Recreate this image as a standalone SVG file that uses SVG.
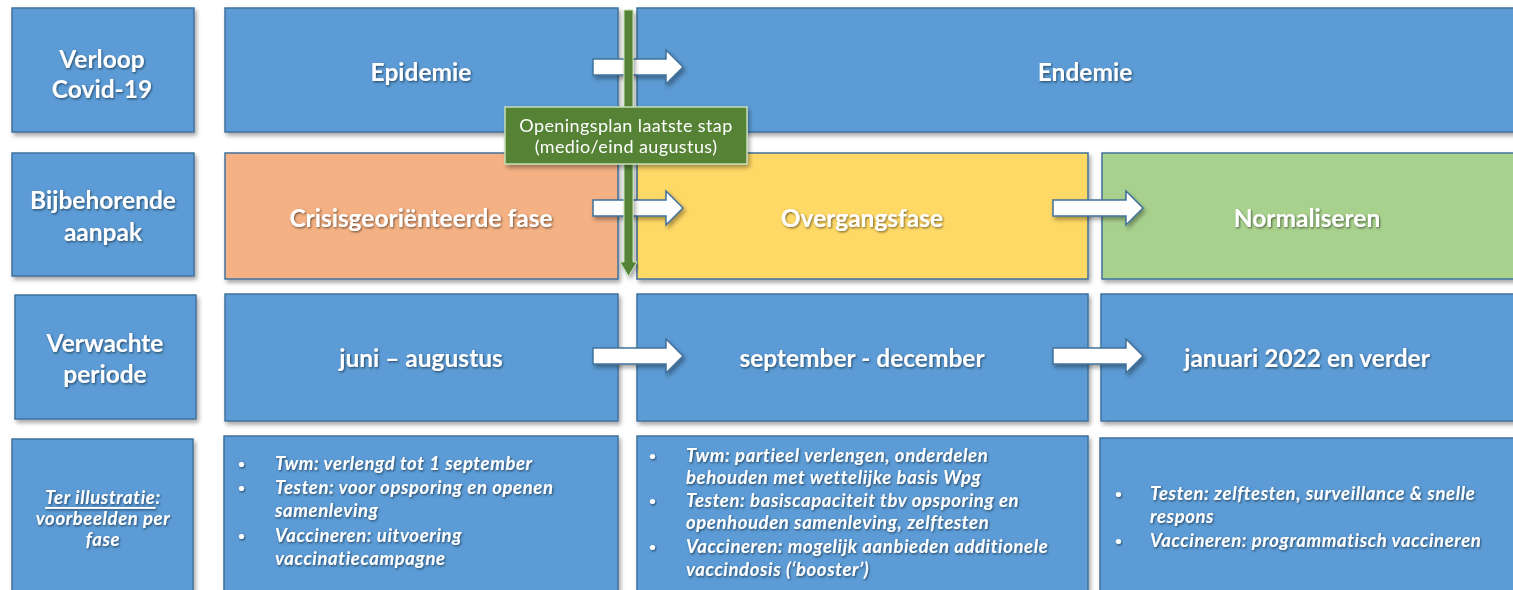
<svg xmlns="http://www.w3.org/2000/svg" width="1513" height="590" viewBox="0 0 1513 590">
<defs>
<filter id="sh" x="-10%" y="-10%" width="120%" height="130%">
<feDropShadow dx="2" dy="3" stdDeviation="2" flood-color="#000" flood-opacity="0.35"/>
</filter>
<filter id="tsh" x="-5%" y="-20%" width="110%" height="150%">
<feDropShadow dx="1" dy="1.2" stdDeviation="0.8" flood-color="#000" flood-opacity="0.55"/>
</filter>
<path id="blockArrow" d="M0,-8 L73,-8 L73,-17 L90,0 L73,17 L73,8 L0,8 Z"/>
</defs>
<style>
.blue{fill:#5B9BD5;stroke:#41719C;stroke-width:1.5}
.orange{fill:#F4B183;stroke:#41719C;stroke-width:1.5}
.yellow{fill:#FFD966;stroke:#41719C;stroke-width:1.5}
.green{fill:#A9D18E;stroke:#41719C;stroke-width:1.5}
.t{font-family:Lato,"Liberation Sans",sans-serif;font-weight:bold;font-size:24.5px;fill:#fff;text-anchor:middle;dominant-baseline:central;filter:url(#tsh)}
.b{font-family:Lato,"Liberation Sans",sans-serif;font-weight:bold;font-style:italic;font-size:18.5px;letter-spacing:0.6px;fill:#fff;dominant-baseline:central;filter:url(#tsh)}
.d{font-family:Lato,"Liberation Sans",sans-serif;font-weight:bold;font-size:12px;fill:#fff;dominant-baseline:central;filter:url(#tsh)}
.lab{font-family:Lato,"Liberation Sans",sans-serif;font-weight:bold;font-style:italic;font-size:18.5px;letter-spacing:0.6px;fill:#fff;text-anchor:middle;dominant-baseline:central;filter:url(#tsh)}
.arr{fill:#fff;stroke:#41719C;stroke-width:1.5;filter:url(#sh)}
.gt{font-family:Lato,"Liberation Sans",sans-serif;font-size:18px;letter-spacing:0.4px;fill:#fff;text-anchor:middle;dominant-baseline:central}
</style>
<rect width="1513" height="590" fill="#fff"/>

<g id="label-verloop" filter="url(#sh)">
<rect class="blue" x="12" y="8" width="182" height="124"/>
<text class="t" x="102" y="58">Verloop</text>
<text class="t" x="102" y="88">Covid-19</text>
</g>
<g id="epidemie" filter="url(#sh)">
<rect class="blue" x="225" y="8" width="393" height="124"/>
<text class="t" x="421" y="71">Epidemie</text>
</g>
<g id="endemie" filter="url(#sh)">
<rect class="blue" x="637" y="8" width="896" height="124"/>
<text class="t" x="1085" y="71">Endemie</text>
</g>

<g id="label-aanpak" filter="url(#sh)">
<rect class="blue" x="12" y="153" width="182" height="123"/>
<text class="t" x="103" y="199">Bijbehorende</text>
<text class="t" x="103" y="231">aanpak</text>
</g>
<g id="crisis" filter="url(#sh)">
<rect class="orange" x="225" y="153" width="393" height="126"/>
<text class="t" x="421" y="217">Crisisgeoriënteerde fase</text>
</g>
<g id="overgang" filter="url(#sh)">
<rect class="yellow" x="637" y="153" width="451" height="126"/>
<text class="t" x="862" y="217">Overgangsfase</text>
</g>
<g id="normaliseren" filter="url(#sh)">
<rect class="green" x="1102" y="153" width="431" height="126"/>
<text class="t" x="1307" y="217">Normaliseren</text>
</g>

<g id="label-periode" filter="url(#sh)">
<rect class="blue" x="15" y="295" width="181" height="124"/>
<text class="t" x="105" y="342">Verwachte</text>
<text class="t" x="105" y="373">periode</text>
</g>
<g id="juni" filter="url(#sh)">
<rect class="blue" x="225" y="294" width="393" height="127"/>
<text class="t" x="421" y="357">juni – augustus</text>
</g>
<g id="september" filter="url(#sh)">
<rect class="blue" x="637" y="294" width="451" height="127"/>
<text class="t" x="862" y="357">september - december</text>
</g>
<g id="januari" filter="url(#sh)">
<rect class="blue" x="1101" y="294" width="432" height="127"/>
<text class="t" x="1307" y="357">januari 2022 en verder</text>
</g>

<g id="label-illustratie" filter="url(#sh)">
<rect class="blue" x="12" y="439" width="181" height="160"/>
<text class="lab" x="103" y="497"><tspan text-decoration="underline">Ter illustratie</tspan>:</text>
<text class="lab" x="103" y="518">voorbeelden per</text>
<text class="lab" x="103" y="539">fase</text>
</g>
<g id="voorbeelden-1" filter="url(#sh)">
<rect class="blue" x="224" y="436" width="394" height="163"/>
<text class="d" x="238" y="463">•</text><text class="b" x="275" y="463">Twm: verlengd tot 1 september</text>
<text class="d" x="238" y="487">•</text><text class="b" x="275" y="487">Testen: voor opsporing en openen</text>
<text class="b" x="275" y="510">samenleving</text>
<text class="d" x="238" y="535">•</text><text class="b" x="275" y="535">Vaccineren: uitvoering</text>
<text class="b" x="275" y="558">vaccinatiecampagne</text>
</g>
<g id="voorbeelden-2" filter="url(#sh)">
<rect class="blue" x="637" y="436" width="451" height="163"/>
<text class="d" x="649" y="455">•</text><text class="b" x="686" y="455">Twm: partieel verlengen, onderdelen</text>
<text class="b" x="686" y="477">behouden met wettelijke basis Wpg</text>
<text class="d" x="649" y="500">•</text><text class="b" x="686" y="500">Testen: basiscapaciteit tbv opsporing en</text>
<text class="b" x="686" y="522">openhouden samenleving, zelftesten</text>
<text class="d" x="649" y="546">•</text><text class="b" x="686" y="546">Vaccineren: mogelijk aanbieden additionele</text>
<text class="b" x="686" y="569">vaccindosis (‘booster’)</text>
</g>
<g id="voorbeelden-3" filter="url(#sh)">
<rect class="blue" x="1100" y="438" width="433" height="161"/>
<text class="d" x="1115" y="493">•</text><text class="b" x="1150" y="493">Testen: zelftesten, surveillance &amp; snelle</text>
<text class="b" x="1150" y="516">respons</text>
<text class="d" x="1115" y="540">•</text><text class="b" x="1150" y="540">Vaccineren: programmatisch vaccineren</text>
</g>

<g id="connectors">
<use href="#blockArrow" class="arr" x="593" y="67"/>
<use href="#blockArrow" class="arr" x="593" y="208"/>
<use href="#blockArrow" class="arr" x="1053" y="208"/>
<use href="#blockArrow" class="arr" x="593" y="356"/>
<use href="#blockArrow" class="arr" x="1053" y="356"/>
<path d="M624,10 L633,10 L633,262 L637,262 L628.5,276 L620,262 L624,262 Z" fill="#548235" stroke="#C5DDB5" stroke-width="1" filter="url(#sh)"/>
</g>

<g id="openingsplan" filter="url(#sh)">
<rect x="505" y="107" width="242" height="57" fill="#548235" stroke="#C5DDB5" stroke-width="1.5"/>
<text class="gt" x="626" y="125">Openingsplan laatste stap</text>
<text class="gt" x="626" y="146">(medio/eind augustus)</text>
</g>
</svg>
